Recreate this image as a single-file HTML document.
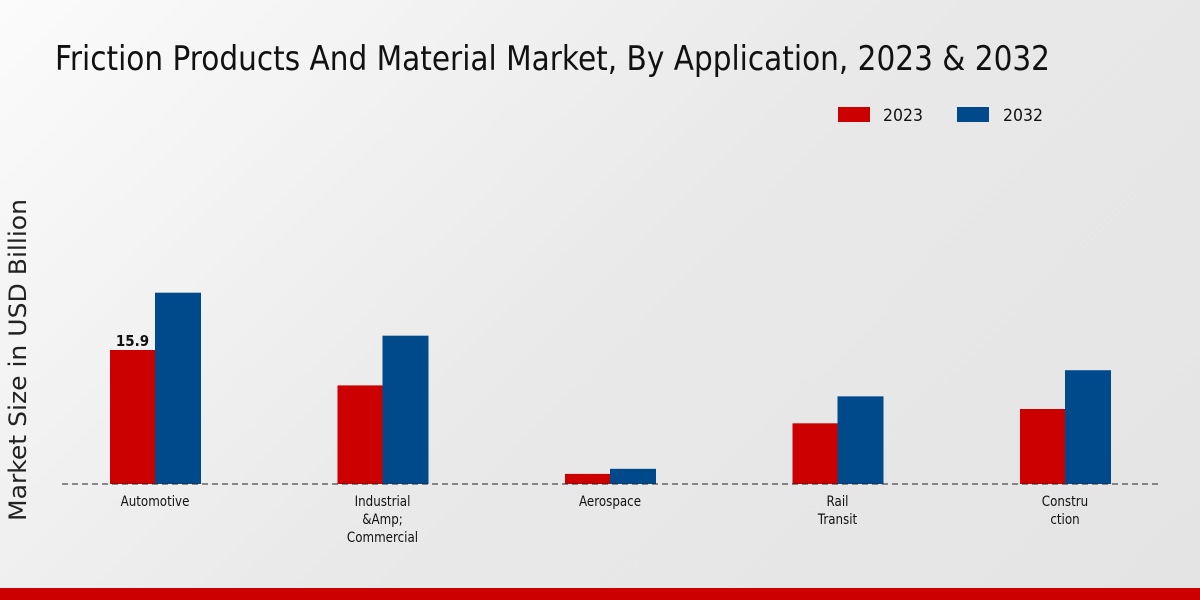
<!DOCTYPE html>
<html><head><meta charset="utf-8"><style>
html,body{margin:0;padding:0;width:1200px;height:600px;overflow:hidden}
body{background:linear-gradient(135deg,#fbfbfb 0%,#e9e9e9 50%,#e4e4e4 100%)}
svg{display:block;font-family:"DejaVu Sans","Liberation Sans",sans-serif}
</style></head><body>
<svg width="1200" height="600">
<text x="55" y="70" font-size="34" textLength="995" lengthAdjust="spacingAndGlyphs" fill="#111">Friction Products And Material Market, By Application, 2023 &amp; 2032</text>
<g>
<rect x="838" y="107" width="32" height="15" fill="#cc0000"/>
<text x="883" y="121" font-size="17" textLength="40" lengthAdjust="spacingAndGlyphs" fill="#111">2023</text>
<rect x="957" y="107" width="32" height="15" fill="#004a8c"/>
<text x="1003" y="121" font-size="17" textLength="40" lengthAdjust="spacingAndGlyphs" fill="#111">2032</text>
</g>
<text transform="translate(26,360) rotate(-90)" text-anchor="middle" font-size="24" textLength="322" lengthAdjust="spacingAndGlyphs" fill="#222">Market Size in USD Billion</text>
<g id="plot"></g>
<line x1="62" y1="484" x2="1160" y2="484" stroke="#222" stroke-dasharray="6,4"/>
<rect x="0" y="588" width="1200" height="12" fill="#cc0000"/>
</svg>
<script>
const categories=[["Automotive"],["Industrial","&Amp;","Commercial"],["Aerospace"],["Rail","Transit"],["Constru","ction"]];
const values2023=[15.9,11.7,1.2,7.2,8.9];
const values2032=[22.7,17.6,1.8,10.4,13.5];
const labels2023=["15.9",null,null,null,null];
const NS="http://www.w3.org/2000/svg";
const g=document.getElementById("plot");
const base=484, scale=134/15.9;
const xc=i=>155+i*227.5;
const yh=v=>v*scale;
function mk(t,a){const e=document.createElementNS(NS,t);for(const k in a)e.setAttribute(k,a[k]);g.appendChild(e);return e;}
categories.forEach((c,i)=>{
 const h1=yh(values2023[i]),h2=yh(values2032[i]);
 const r1=mk("rect",{x:xc(i)-45,y:base-h1,width:45,height:h1,fill:"#cc0000"});
 
 
 const r2=mk("rect",{x:xc(i),y:base-h2,width:46,height:h2,fill:"#004a8c"});
 
 
 if(labels2023[i]){const t=mk("text",{x:xc(i)-22.5,y:base-h1-4,"text-anchor":"middle","font-size":15,"font-weight":"bold",fill:"#111",transform:`translate(${xc(i)-22.5},0) scale(0.9,1) translate(${-(xc(i)-22.5)},0)`});t.textContent=labels2023[i];
 
 }
 c.forEach((ln,j)=>{const t=mk("text",{x:xc(i),y:506+j*18,"text-anchor":"middle","font-size":14,fill:"#111",transform:`translate(${xc(i)},0) scale(0.85,1) translate(${-xc(i)},0)`});t.textContent=ln;
 
 });
});
</script>
</body></html>
